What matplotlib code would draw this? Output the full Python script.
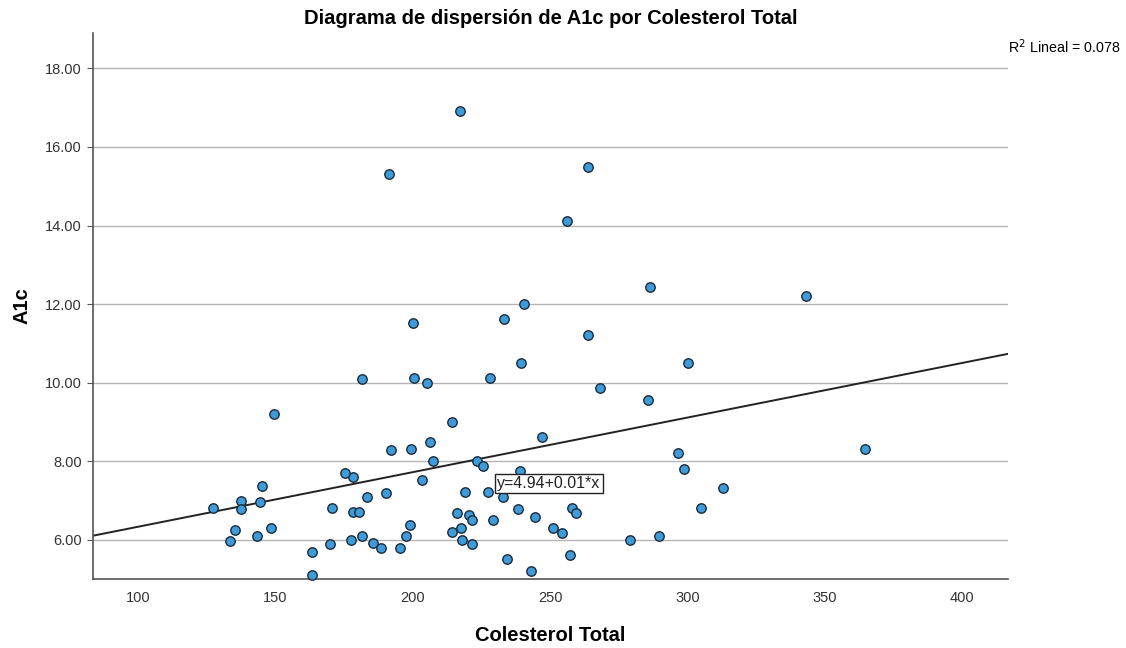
import matplotlib.pyplot as plt
import numpy as np

plt.rcParams['font.family'] = ['Liberation Sans', 'DejaVu Sans']

# DATA
colesterol = [
    149.4, 127.4, 137.5, 137.5, 144.4, 145.3, 135.3, 133.5, 143.4, 148.4,
    163.4, 163.4,
    181.4, 200.4, 205.3, 228.3, 268.2, 214.4, 192.2, 199.2, 206.3, 247.2,
    207.5, 223.3, 225.4, 239.1, 178.4, 203.4, 183.5, 190.4, 219.2, 227.3,
    233.0, 178.2, 180.6, 216.1, 220.4, 221.4, 229.2, 238.3, 244.4, 258.0,
    259.3, 199.1, 197.4, 214.4, 217.5, 251.2, 254.4, 279.0, 177.4, 181.4,
    185.4, 188.3, 195.3, 218.1, 221.4, 234.3, 243.2, 257.3, 169.9, 170.6,
    175.4,
    217.2, 191.4, 263.7, 256.3, 240.4, 233.2, 200.2, 263.7, 239.3,
    286.4, 343.3, 300.3,
    285.6, 296.7, 298.8, 312.9, 304.8, 289.6, 364.7,
]
a1c = [
    9.21, 6.81, 6.99, 6.79, 6.96, 7.38, 6.25, 5.96, 6.10, 6.30,
    5.69, 5.11,
    10.09, 10.12, 10.00, 10.11, 9.85, 9.00, 8.29, 8.30, 8.50, 8.62,
    8.01, 8.01, 7.88, 7.74, 7.60, 7.51, 7.10, 7.20, 7.22, 7.22,
    7.10, 6.70, 6.70, 6.68, 6.63, 6.49, 6.50, 6.79, 6.58, 6.80,
    6.69, 6.37, 6.10, 6.20, 6.31, 6.31, 6.16, 6.00, 6.00, 6.10,
    5.92, 5.80, 5.80, 6.00, 5.90, 5.50, 5.20, 5.60, 5.90, 6.80,
    7.70,
    16.92, 15.32, 15.50, 14.11, 12.00, 11.61, 11.52, 11.21, 10.51,
    12.43, 12.21, 10.51,
    9.55, 8.20, 7.79, 7.31, 6.80, 6.09, 8.30,
]

intercept = 4.94
slope = 0.0139
r2 = 0.078

xticks = [100, 150, 200, 250, 300, 350, 400]
yticks = [6, 8, 10, 12, 14, 16, 18]

fig = plt.figure(figsize=(11.26, 6.48), dpi=100)
ax = fig.add_axes([0.0826, 0.1065, 0.8126, 0.8425])

xmin, xmax = 83.6, 416.7
ax.set_xlim(xmin, xmax)
ax.set_ylim(5.0, 18.9)

# horizontal reference lines
ax.set_yticks(yticks)
ax.set_yticklabels([f'{v:.2f}' for v in yticks])
ax.set_xticks(xticks)
ax.set_xticklabels([str(v) for v in xticks])
ax.yaxis.grid(True, color='#b4b4b4', linewidth=1.0)
ax.set_axisbelow(True)

# fit line
xl = np.array([xmin, xmax])
ax.plot(xl, intercept + slope * xl, color='#222222', linewidth=1.4, zorder=2)

ax.scatter(colesterol, a1c, s=46, facecolor='#3f9bd8', edgecolor='#1c2b3b',
           linewidth=1.0, zorder=3, clip_on=False)

ax.text(230.8, 7.43, f'y={intercept:.2f}+{slope:.2f}*x', fontsize=11.5,
        ha='left', va='center', color='#222222', zorder=4,
        bbox=dict(boxstyle='square,pad=0.12', facecolor='white',
                  edgecolor='#222222', linewidth=1.0))

for side in ['top', 'right']:
    ax.spines[side].set_visible(False)
for side in ['left', 'bottom']:
    ax.spines[side].set_color('#555555')
    ax.spines[side].set_linewidth(1.2)

ax.tick_params(axis='y', length=4, color='#555555', labelsize=10.5,
               labelcolor='#333333', pad=4)
ax.tick_params(axis='x', length=0, labelsize=10.5, labelcolor='#333333', pad=9)

ax.set_xlabel('Colesterol Total', fontsize=14.5, fontweight='bold', labelpad=15)
ax.set_ylabel('A1c', fontsize=14.5, fontweight='bold', labelpad=10)
fig.text(0.489, 0.972, 'Diagrama de dispersión de A1c por Colesterol Total',
         ha='center', va='center', fontsize=14.5, fontweight='bold')
fig.text(0.995, 0.928, f'R$^2$ Lineal = {r2:.3f}', ha='right', va='center',
         fontsize=10.3)

fig.savefig('out.png', dpi=100)
